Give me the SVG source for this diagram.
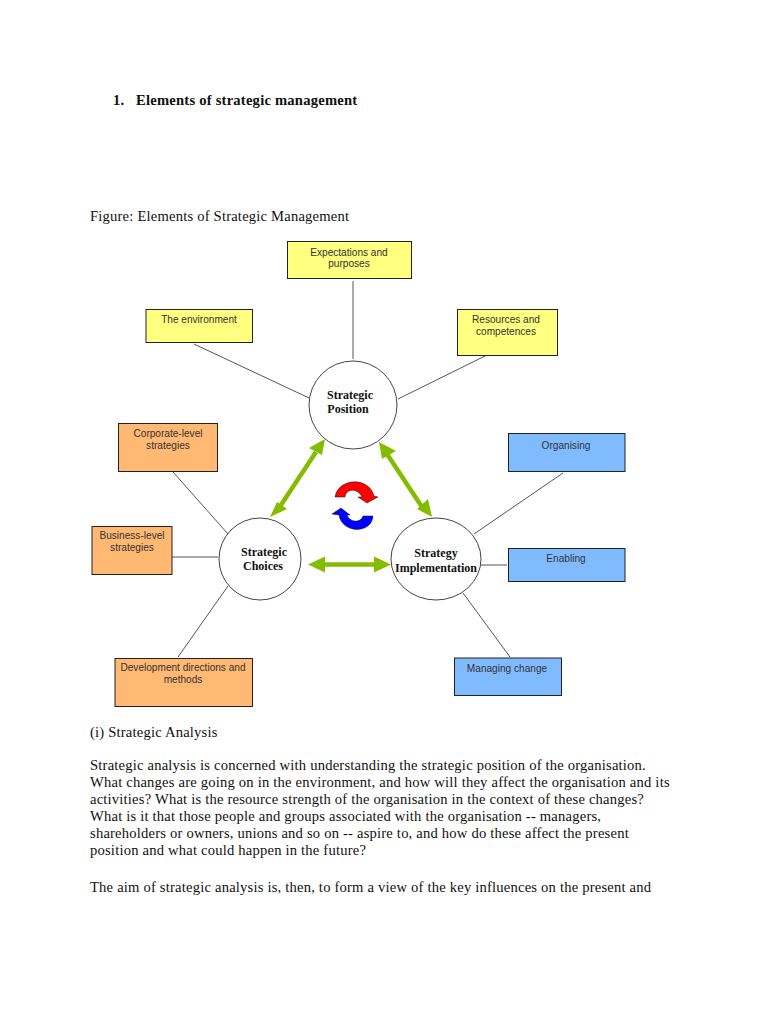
<svg xmlns="http://www.w3.org/2000/svg" width="768" height="1024" viewBox="0 0 768 1024">
<style>
.doc{font-family:"Liberation Serif",serif;font-size:14.6px;letter-spacing:.2px;fill:#111}
.lbl{font-family:"Liberation Sans",sans-serif;font-size:10.1px;fill:#333;text-anchor:middle}
.cap{font-family:"Liberation Serif",serif;font-size:12px;font-weight:bold;fill:#111;text-anchor:middle}
.box{stroke:#222;stroke-width:1}
.y{fill:#ffff80}.o{fill:#ffb973}.b{fill:#80bbff}
.c{fill:#fff;stroke:#444;stroke-width:1}
.l{stroke:#555;stroke-width:1;fill:none}
.g{stroke:#84bd00;stroke-width:4.500;fill:none}
.gh{fill:#84bd00}
</style>
<rect width="768" height="1024" fill="#fff"/>
<g id="text-top">
<text class="doc" x="113" y="105" style="font-weight:bold">1.</text>
<text class="doc" x="136" y="105" style="font-weight:bold;letter-spacing:.22px">Elements of strategic management</text>
<text class="doc" x="90" y="221">Figure: Elements of Strategic Management</text>
</g>
<g id="connectors">
<path class="l" d="M353 281V359M194 344L309 398M487 355L398 399M173 472L228 534M172 557H218M228 586L178 657M474 534L563 473M480 565H507M463 593L510 657"/>
<path class="g" d="M316 452L281 505M387 454L422 507M322 564.500H377"/>
<path class="gh" d="M325 439L309 448L322 455ZM270 517L277 502L287 509ZM379 442L382 459L396 451ZM432 517L428 499L417 509ZM308 564.500L325 556.500V572.500ZM391 564.500L374 556.500V572.500Z"/>
</g>
<g id="cycle">
<path d="M335 497C338 478 369 476 374 496L378 497L367 503L358 497L362 497C358 488 346 488 345 497Z" fill="#f00" stroke="#111" stroke-width=".5"/>
<path d="M373 516C372 534 342 534 339 515L332 514L341 508L350 515L347 515C350 523 361 523 363 516Z" fill="#00f" stroke="#111" stroke-width=".5"/>
</g>
<g id="position"><circle class="c" cx="353" cy="405" r="44"/><text class="cap" x="350" y="399">Strategic</text><text class="cap" x="348" y="413">Position</text></g>
<g id="choices"><circle class="c" cx="260" cy="559" r="41"/><text class="cap" x="264" y="556">Strategic</text><text class="cap" x="263" y="570">Choices</text></g>
<g id="implementation"><ellipse class="c" cx="436" cy="559" rx="45" ry="41"/><text class="cap" x="436" y="557">Strategy</text><text class="cap" x="436" y="572">Implementation</text></g>
<g id="expectations"><rect class="box y" x="287.500" y="241.500" width="124" height="37"/><text class="lbl" x="349" y="256">Expectations and</text><text class="lbl" x="349" y="267">purposes</text></g>
<g id="environment"><rect class="box y" x="146" y="309.500" width="106.500" height="33"/><text class="lbl" x="199" y="323">The environment</text></g>
<g id="resources"><rect class="box y" x="457.500" y="309.500" width="100" height="46"/><text class="lbl" x="506" y="323">Resources and</text><text class="lbl" x="506" y="335">competences</text></g>
<g id="corporate"><rect class="box o" x="118.500" y="423.500" width="99" height="48"/><text class="lbl" x="168" y="437">Corporate-level</text><text class="lbl" x="168" y="449">strategies</text></g>
<g id="business"><rect class="box o" x="92" y="526.500" width="80" height="48"/><text class="lbl" x="132" y="539">Business-level</text><text class="lbl" x="132" y="551">strategies</text></g>
<g id="development"><rect class="box o" x="115" y="658.500" width="137.500" height="48"/><text class="lbl" x="183" y="671">Development directions and</text><text class="lbl" x="183" y="683">methods</text></g>
<g id="organising"><rect class="box b" x="508.500" y="433.500" width="116.500" height="38"/><text class="lbl" x="566" y="449">Organising</text></g>
<g id="enabling"><rect class="box b" x="508.500" y="548.500" width="116.500" height="33"/><text class="lbl" x="566" y="562">Enabling</text></g>
<g id="managing"><rect class="box b" x="454.500" y="658" width="107" height="37.500"/><text class="lbl" x="507" y="672">Managing change</text></g>
<g id="text-bottom">
<text class="doc" x="90" y="737">(i) Strategic Analysis</text>
<text class="doc" x="90" y="770">Strategic analysis is concerned with understanding the strategic position of the organisation.</text>
<text class="doc" x="90" y="787">What changes are going on in the environment, and how will they affect the organisation and its</text>
<text class="doc" x="90" y="804">activities? What is the resource strength of the organisation in the context of these changes?</text>
<text class="doc" x="90" y="821">What is it that those people and groups associated with the organisation -- managers,</text>
<text class="doc" x="90" y="838">shareholders or owners, unions and so on -- aspire to, and how do these affect the present</text>
<text class="doc" x="90" y="855">position and what could happen in the future?</text>
<text class="doc" x="90" y="892">The aim of strategic analysis is, then, to form a view of the key influences on the present and</text>
</g>
</svg>
